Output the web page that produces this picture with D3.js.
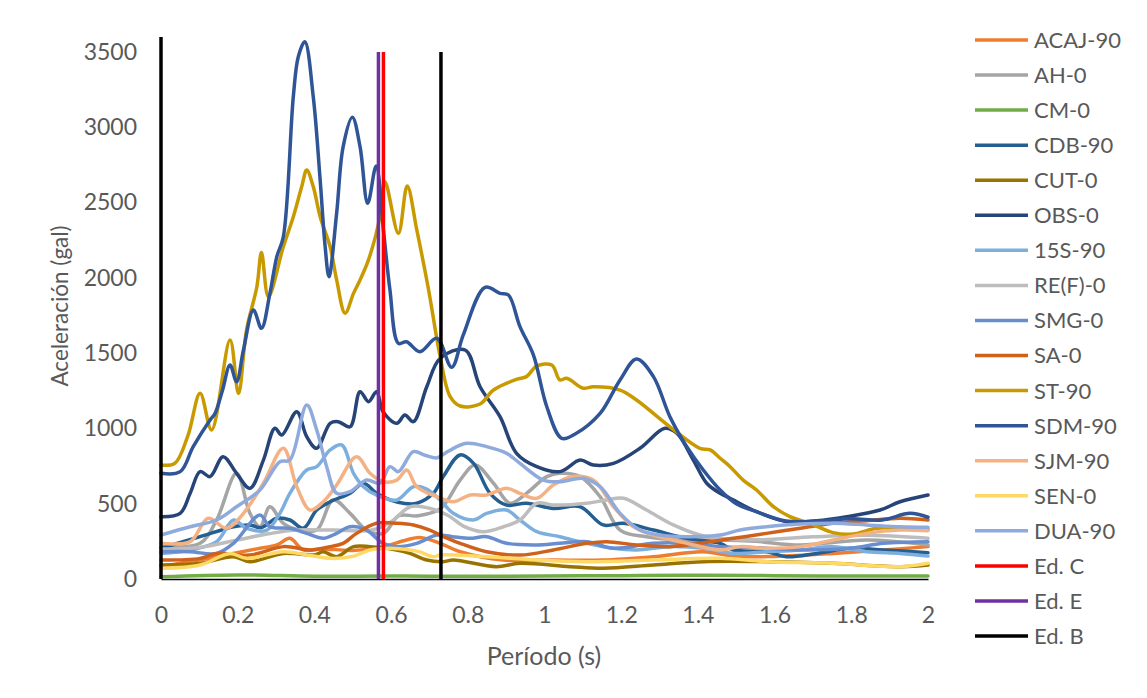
<!DOCTYPE html>
<html>
<head>
<meta charset="utf-8">
<script src="https://cdn.jsdelivr.net/npm/d3@7"></script>
<style>
  body { margin: 0; background: #fff; }
  svg { font-family: Lato, "Open Sans", sans-serif; }
</style>
</head>
<body>
<svg width="1147" height="698"></svg>
<script>
// series: [period (s), acceleration (gal)]
const ACAJ90 = [[0,82],[0.145,148],[0.25,200],[0.302,226],[0.336,270],[0.371,193],[0.42,200],[0.5,190],[0.579,215],[0.64,259],[0.675,275],[0.728,237],[0.78,181],[0.893,126],[1.023,126],[1.153,126],[1.284,148],[1.414,181],[1.5,150],[1.6,150],[1.753,170],[1.884,193],[2,215]];
const AH0 = [[0,215],[0.102,237],[0.145,392],[0.197,702],[0.232,436],[0.258,347],[0.284,480],[0.319,370],[0.362,325],[0.406,325],[0.449,525],[0.493,436],[0.536,325],[0.58,303],[0.62,420],[0.67,420],[0.73,470],[0.78,657],[0.819,757],[0.867,636],[0.91,503],[0.953,569],[1.006,680],[1.04,702],[1.093,680],[1.145,547],[1.197,325],[1.266,281],[1.353,259],[1.458,259],[1.55,250],[1.667,226],[1.84,259],[2,226]];
const CM0 = [[0,15],[0.2,27],[0.4,18],[0.6,20],[0.8,18],[1.0,20],[1.2,22],[1.4,25],[1.6,22],[1.8,20],[2,20]];
const CDB90 = [[0,204],[0.102,281],[0.189,347],[0.232,359],[0.26,340],[0.302,403],[0.336,392],[0.371,337],[0.406,458],[0.441,513],[0.493,569],[0.528,636],[0.562,569],[0.597,525],[0.632,503],[0.667,503],[0.71,569],[0.736,680],[0.78,824],[0.815,768],[0.858,569],[0.901,491],[0.953,503],[1.023,469],[1.093,480],[1.153,359],[1.206,370],[1.284,325],[1.371,270],[1.458,237],[1.492,193],[1.579,181],[1.631,148],[1.71,170],[1.797,204],[1.884,193],[2,175]];
const CUT0 = [[0,93],[0.102,104],[0.189,148],[0.232,115],[0.319,170],[0.4,160],[0.423,181],[0.458,148],[0.502,215],[0.545,215],[0.597,200],[0.649,170],[0.693,126],[0.736,115],[0.762,126],[0.874,82],[0.936,104],[1.067,82],[1.153,71],[1.284,93],[1.414,115],[1.58,115],[1.75,104],[1.93,82],[2,93]];
const OBS0 = [[0,414],[0.05,436],[0.076,569],[0.102,713],[0.128,680],[0.162,812],[0.197,702],[0.232,602],[0.267,790],[0.297,1001],[0.315,956],[0.354,1111],[0.38,945],[0.406,868],[0.441,1034],[0.462,1045],[0.493,1011],[0.519,1244],[0.541,1178],[0.562,1244],[0.579,1111],[0.615,1034],[0.636,1089],[0.658,1045],[0.693,1277],[0.728,1466],[0.793,1521],[0.832,1277],[0.884,1078],[0.927,835],[0.98,746],[1.04,713],[1.093,790],[1.127,757],[1.18,768],[1.249,868],[1.314,1001],[1.345,968],[1.388,790],[1.423,636],[1.458,569],[1.484,536],[1.553,447],[1.631,381],[1.71,387],[1.788,414],[1.875,458],[1.927,513],[2,558]];
const S15_90 = [[0,170],[0.076,193],[0.145,248],[0.189,392],[0.223,337],[0.276,325],[0.31,436],[0.336,569],[0.38,724],[0.406,746],[0.441,857],[0.471,890],[0.502,702],[0.528,613],[0.56,560],[0.615,525],[0.658,613],[0.69,600],[0.728,525],[0.762,436],[0.815,392],[0.849,436],[0.901,458],[0.936,392],[0.98,314],[1.04,281],[1.11,237],[1.18,204],[1.24,193],[1.327,215],[1.414,204],[1.492,170],[1.579,181],[1.667,193],[1.753,215],[1.84,181],[1.927,170],[2,153]];
const REF0 = [[0,200],[0.1,210],[0.2,260],[0.28,300],[0.35,325],[0.45,325],[0.55,325],[0.6,380],[0.65,480],[0.7,470],[0.75,420],[0.79,350],[0.84,314],[0.893,347],[0.936,392],[0.98,503],[1.023,491],[1.11,503],[1.162,525],[1.206,536],[1.266,458],[1.336,359],[1.405,292],[1.458,270],[1.55,260],[1.7,280],[1.84,290],[2,270]];
const SMG0 = [[0,181],[0.076,181],[0.145,170],[0.189,237],[0.258,425],[0.284,347],[0.336,337],[0.38,303],[0.423,270],[0.458,303],[0.493,347],[0.536,325],[0.579,237],[0.615,215],[0.667,237],[0.719,292],[0.76,281],[0.806,270],[0.849,281],[0.901,237],[0.98,226],[1.04,237],[1.11,248],[1.18,204],[1.284,237],[1.371,237],[1.458,215],[1.579,205],[1.667,193],[1.797,204],[1.884,237],[2,248]];
const SA0 = [[0,126],[0.102,137],[0.145,170],[0.232,159],[0.319,215],[0.389,193],[0.441,215],[0.475,237],[0.51,303],[0.562,370],[0.615,370],[0.658,359],[0.701,325],[0.728,292],[0.78,237],[0.849,181],[0.936,159],[1.023,193],[1.11,237],[1.162,248],[1.24,226],[1.327,215],[1.405,237],[1.492,270],[1.579,303],[1.667,337],[1.753,370],[1.84,387],[1.927,403],[2,392]];
const ST90 = [[0,757],[0.036,768],[0.07,950],[0.102,1233],[0.132,990],[0.18,1587],[0.202,1233],[0.223,1654],[0.25,1941],[0.262,2168],[0.28,1875],[0.319,2207],[0.345,2406],[0.367,2606],[0.38,2716],[0.397,2606],[0.415,2406],[0.441,2207],[0.458,1986],[0.48,1765],[0.502,1897],[0.519,1986],[0.541,2119],[0.571,2406],[0.584,2639],[0.619,2296],[0.642,2610],[0.667,2318],[0.697,1931],[0.728,1476],[0.754,1211],[0.78,1149],[0.832,1162],[0.867,1255],[0.927,1326],[0.953,1344],[0.98,1415],[1.019,1421],[1.04,1322],[1.058,1333],[1.101,1267],[1.127,1277],[1.197,1255],[1.24,1189],[1.327,1011],[1.405,868],[1.432,857],[1.458,802],[1.484,746],[1.518,657],[1.553,591],[1.597,480],[1.64,414],[1.692,370],[1.753,308],[1.805,299],[1.866,337],[1.927,337],[2,330]];
const SDM90 = [[0,702],[0.05,713],[0.084,879],[0.128,1056],[0.141,1100],[0.16,1250],[0.18,1421],[0.197,1310],[0.215,1521],[0.241,1787],[0.262,1665],[0.284,1897],[0.302,2141],[0.319,2273],[0.345,3203],[0.358,3469],[0.375,3568],[0.397,3203],[0.415,2650],[0.428,2207],[0.438,2008],[0.458,2429],[0.475,2871],[0.499,3066],[0.519,2871],[0.539,2495],[0.561,2743],[0.58,2318],[0.597,1919],[0.619,1565],[0.64,1576],[0.675,1510],[0.719,1599],[0.758,1406],[0.788,1620],[0.845,1937],[0.884,1897],[0.906,1886],[0.936,1676],[0.971,1488],[1.006,1144],[1.045,934],[1.08,963],[1.145,1100],[1.197,1322],[1.24,1461],[1.284,1344],[1.327,1078],[1.371,879],[1.414,724],[1.458,591],[1.5,500],[1.553,447],[1.63,385],[1.71,385],[1.8,400],[1.88,392],[1.953,436],[2,410]];
const SJM90 = [[0,237],[0.076,248],[0.123,403],[0.171,337],[0.215,436],[0.267,636],[0.319,868],[0.354,613],[0.389,458],[0.423,513],[0.458,624],[0.51,812],[0.545,702],[0.579,646],[0.615,657],[0.641,724],[0.667,613],[0.719,547],[0.762,513],[0.806,558],[0.849,558],[0.901,602],[0.936,569],[0.98,536],[1.023,624],[1.075,680],[1.127,657],[1.18,480],[1.232,347],[1.284,292],[1.371,237],[1.458,193],[1.51,215],[1.579,204],[1.667,215],[1.753,259],[1.84,303],[1.927,325],[2,321]];
const SEN0 = [[0,71],[0.102,93],[0.18,170],[0.223,137],[0.319,181],[0.38,160],[0.441,137],[0.5,150],[0.545,193],[0.597,204],[0.649,193],[0.675,180],[0.71,148],[0.728,159],[0.849,148],[0.98,126],[1.11,115],[1.284,126],[1.458,137],[1.58,115],[1.75,104],[1.93,82],[2,104]];
const DUA90 = [[0,292],[0.076,347],[0.145,392],[0.197,480],[0.258,591],[0.31,779],[0.336,790],[0.38,1156],[0.406,990],[0.432,746],[0.458,569],[0.493,580],[0.536,657],[0.571,636],[0.597,746],[0.619,713],[0.658,846],[0.69,820],[0.72,805],[0.75,850],[0.797,901],[0.849,879],[0.901,835],[0.936,768],[0.997,657],[1.04,646],[1.101,669],[1.145,613],[1.197,436],[1.249,325],[1.301,292],[1.371,281],[1.458,292],[1.51,325],[1.579,347],[1.667,365],[1.753,370],[1.84,359],[1.927,347],[2,343]];
// building periods (vertical markers)
const EdC = [[[0.58,0],[0.58,3500]]];
const EdE = [[[0.567,0],[0.567,3500]]];
const EdB = [[[0,0],[0,3600]],[[0.73,0],[0.73,3500]]];

const seriesNames = ["ACAJ-90","AH-0","CM-0","CDB-90","CUT-0","OBS-0","15S-90","RE(F)-0","SMG-0","SA-0","ST-90","SDM-90","SJM-90","SEN-0","DUA-90"];
const seriesData = [ACAJ90,AH0,CM0,CDB90,CUT0,OBS0,S15_90,REF0,SMG0,SA0,ST90,SDM90,SJM90,SEN0,DUA90];
const seriesColors = ["#ED7D31","#A5A5A5","#70AD47","#255E91","#997300","#264478","#7CAFDD","#BDBDBD","#698ED0","#D0611B","#C89A00","#2F5597","#F4B183","#FFD966","#8FAADC"];
const markerNames = ["Ed. C","Ed. E","Ed. B"];
const markerData = [EdC, EdE, EdB];
const markerColors = ["#FF0000","#7030A0","#000000"];

const xTicks = [0,0.2,0.4,0.6,0.8,1,1.2,1.4,1.6,1.8,2];
const yTicks = [0,500,1000,1500,2000,2500,3000,3500];

const svg = d3.select("svg");
const x = d3.scaleLinear().domain([0, 2]).range([161, 928]);
const y = d3.scaleLinear().domain([0, 3500]).range([579, 52]);
const textColor = "#595959";

const line = d3.line()
  .x((d) => x(d[0]))
  .y((d) => y(d[1]))
  .curve(d3.curveCatmullRom.alpha(0.5));

// axes
svg.append("g")
  .attr("transform", "translate(0,579)")
  .call(d3.axisBottom(x).tickValues(xTicks).tickFormat(d3.format("")).tickSize(0).tickPadding(28))
  .call((g) => g.select(".domain").attr("stroke", "#000").attr("stroke-width", 1.5))
  .call((g) => g.selectAll("text").attr("fill", textColor).style("font-size", "23px").style("font-family", "Lato"));

svg.append("g")
  .attr("transform", "translate(161,0)")
  .call(d3.axisLeft(y).tickValues(yTicks).tickFormat(d3.format("d")).tickSize(0).tickPadding(24))
  .call((g) => g.select(".domain").remove())
  .call((g) => g.selectAll("text").attr("fill", textColor).style("font-size", "23px").style("font-family", "Lato"));

// data lines
svg.append("g")
  .attr("fill", "none")
  .attr("stroke-linecap", "round")
  .attr("stroke-linejoin", "round")
  .selectAll("path")
  .data(seriesData)
  .join("path")
  .attr("stroke", (d, i) => seriesColors[i])
  .attr("stroke-width", 3.5)
  .attr("d", line);

// vertical building lines
markerData.forEach((segs, i) => {
  svg.append("g")
    .selectAll("path")
    .data(segs)
    .join("path")
    .attr("fill", "none")
    .attr("stroke", markerColors[i])
    .attr("stroke-width", 3.5)
    .attr("d", line);
});

// axis titles
svg.append("text")
  .attr("transform", "translate(68,306) rotate(-90)")
  .attr("text-anchor", "middle")
  .attr("fill", textColor)
  .style("font-size", "22.5px")
  .text("Aceleración (gal)");

svg.append("text")
  .attr("x", 544)
  .attr("y", 665)
  .attr("text-anchor", "middle")
  .attr("fill", textColor)
  .style("font-size", "25px")
  .text("Período (s)");

// legend
const legendNames = seriesNames.concat(markerNames);
const legendColors = seriesColors.concat(markerColors);
const legend = svg.append("g")
  .selectAll("g")
  .data(legendNames)
  .join("g")
  .attr("transform", (d, i) => `translate(975,${40 + i * 35.06})`);
legend.append("line")
  .attr("x1", 0).attr("x2", 53)
  .attr("stroke", (d, i) => legendColors[i])
  .attr("stroke-width", 3.5);
legend.append("text")
  .attr("x", 59)
  .attr("dy", "0.36em")
  .attr("fill", textColor)
  .style("font-size", "22px")
  .text((d) => d);
</script>
</body>
</html>
